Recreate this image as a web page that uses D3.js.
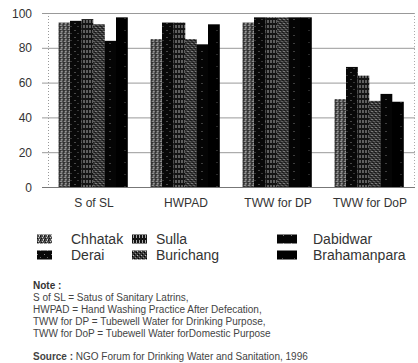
<!DOCTYPE html>
<html><head><meta charset="utf-8">
<script src="https://cdn.jsdelivr.net/npm/d3@7"></script>
<style>
html,body{margin:0;padding:0;background:#fff;}
svg{display:block;font-family:"Liberation Sans",Arial,sans-serif;}
</style></head>
<body><svg id="c" width="418" height="363"></svg>
<script>
const categories = ["S of SL", "HWPAD", "TWW for DP", "TWW for DoP"];
const seriesNames = ["Chhatak", "Derai", "Sulla", "Burichang", "Dabidwar", "Brahamanpara"];
const chhatak = [94.5, 85, 94.5, 50.5];
const derai = [95.5, 94.5, 97.5, 69];
const sulla = [96.5, 94.5, 97.5, 64];
const burichang = [93.5, 85, 97.5, 49.5];
const dabidwar = [84, 82, 97.5, 53.5];
const brahamanpara = [97.5, 93.5, 97.5, 49];
const yTicks = [0, 20, 40, 60, 80, 100];
const noteLines = [
  "S of SL = Satus of Sanitary Latrins,",
  "HWPAD = Hand Washing Practice After Defecation,",
  "TWW for DP = Tubewell Water for Drinking Purpose,",
  "TWW for DoP = Tubewell Water forDomestic Purpose"
];
const sourceText = "NGO Forum for Drinking Water and Sanitation, 1996";

const seriesValues = [chhatak, derai, sulla, burichang, dabidwar, brahamanpara];
const svg = d3.select("#c");
const defs = svg.append("defs");

function pat(id, w, h, bg, dots){
  const p = defs.append("pattern").attr("id", id).attr("patternUnits","userSpaceOnUse")
    .attr("width", w).attr("height", h);
  p.append("rect").attr("width", w).attr("height", h).attr("fill", bg);
  dots.forEach(d => p.append("rect").attr("x", d[0]).attr("y", d[1]).attr("width", d[2]||1).attr("height", d[3]||1).attr("fill", d[4]));
}
pat("p0", 4, 4, "#4e4e4e", [[0,0,1,1,"#111"],[2,1,1,1,"#ccc"],[1,2,1,1,"#111"],[3,3,1,1,"#ddd"],[3,0,1,1,"#999"],[0,3,1,1,"#222"]]);
pat("p1", 7, 7, "#080808", [[2,2,1,1,"#888"],[5,5,1,1,"#666"]]);
pat("p2", 3, 5, "#141414", [[1,0,1,3,"#aaa"]]);
pat("p3", 4, 4, "#383838", [[0,0,1,1,"#000"],[2,2,1,1,"#000"],[1,3,1,1,"#bbb"],[3,1,1,1,"#888"]]);
pat("p4", 8, 8, "#050505", [[3,3,1,1,"#777"]]);
pat("p5", 12, 12, "#000", [[6,6,1,1,"#555"]]);
const fills = seriesNames.map((_, i) => "url(#p" + i + ")");

const x0 = d3.scaleBand().domain(categories).range([47, 415]).paddingInner(0.25).paddingOuter(0.125);
const x1 = d3.scaleBand().domain(seriesNames).range([0, x0.bandwidth()]);
const y = d3.scaleLinear().domain([0, 100]).range([187, 13]);

const g = svg.append("g");
g.selectAll("line.grid").data(yTicks).join("line")
  .attr("x1", 42).attr("x2", 415)
  .attr("y1", d => y(d) + 0.5).attr("y2", d => y(d) + 0.5)
  .attr("stroke", d => d === 0 ? "#777" : "#999").attr("stroke-width", 1);
g.append("line").attr("x1", 48.5).attr("x2", 48.5).attr("y1", y(100)).attr("y2", y(0))
  .attr("stroke", "#999").attr("stroke-dasharray", "1,2");
g.append("line").attr("x1", 414.5).attr("x2", 414.5).attr("y1", y(100)).attr("y2", y(0))
  .attr("stroke", "#aaa").attr("stroke-dasharray", "1,2");

svg.append("g").selectAll("text").data(yTicks).join("text")
  .attr("x", 32).attr("y", d => y(d) + 4.5).attr("text-anchor", "end")
  .attr("font-size", 12).attr("fill", "#333").text(d => d);

const groups = svg.append("g").selectAll("g").data(categories).join("g")
  .attr("transform", c => `translate(${x0(c)},0)`);
groups.selectAll("rect").data((c, ci) => seriesNames.map((s, si) => ({s, si, v: seriesValues[si][ci]})))
  .join("rect")
  .attr("x", d => x1(d.s)).attr("width", x1.bandwidth() + 0.3)
  .attr("y", d => y(d.v)).attr("height", d => y(0) - y(d.v))
  .attr("fill", d => fills[d.si]);

svg.append("g").selectAll("text").data(categories).join("text")
  .attr("x", c => x0(c) + x0.bandwidth() / 2 + 1).attr("y", 207)
  .attr("text-anchor", "middle").attr("font-size", 12).attr("fill", "#333").text(c => c);

const legX = [37, 132, 277];
const legTextX = [71, 156, 313];
const legY = [239, 255];
const leg = svg.append("g").selectAll("g").data(seriesNames).join("g");
leg.append("rect")
  .attr("x", (d, i) => legX[Math.floor(i / 2)]).attr("y", (d, i) => legY[i % 2] - 4.5)
  .attr("width", (d, i) => i >= 4 ? 20 : 15).attr("height", 9)
  .attr("fill", (d, i) => fills[i]);
leg.append("text")
  .attr("x", (d, i) => legTextX[Math.floor(i / 2)]).attr("y", (d, i) => legY[i % 2] + 5)
  .attr("font-size", 14).attr("fill", "#333").text(d => d);

svg.append("text").attr("x", 33).attr("y", 289).attr("font-size", 10).attr("font-weight", "bold")
  .attr("fill", "#333").text("Note :");
svg.append("g").selectAll("text").data(noteLines).join("text")
  .attr("x", 33).attr("y", (d, i) => 301 + i * 12).attr("font-size", 10).attr("fill", "#444").text(d => d);
const src = svg.append("text").attr("x", 33).attr("y", 360).attr("font-size", 10).attr("fill", "#444");
src.append("tspan").attr("font-weight", "bold").text("Source : ");
src.append("tspan").text(" " + sourceText);
</script></body></html>
